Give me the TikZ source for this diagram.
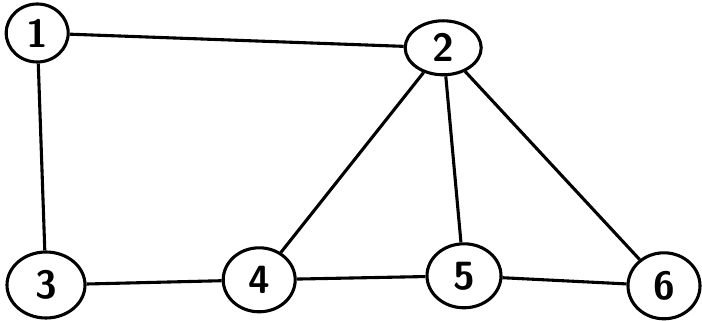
\documentclass[tikz,border=0pt]{standalone}
\usetikzlibrary{shapes.geometric}
\begin{document}
\begin{tikzpicture}[x=1cm,y=1cm,
  vert/.style={draw, ellipse, line width=2.2pt, inner sep=0pt,
    font=\sffamily\bfseries\fontsize{28}{28}\selectfont},
  link/.style={line width=2.2pt}]
\useasboundingbox (0,0) rectangle (17.55,8.025);
\node[vert, minimum width=1.55cm, minimum height=1.45cm] (n1) at (0.93,7.20) {1};
\node[vert, minimum width=1.9cm, minimum height=1.35cm] (n2) at (11.08,6.83) {2};
\node[vert, minimum width=1.95cm, minimum height=1.65cm] (n3) at (1.15,0.90) {3};
\node[vert, minimum width=1.8cm, minimum height=1.6cm] (n4) at (6.48,1.03) {4};
\node[vert, minimum width=1.85cm, minimum height=1.6cm] (n5) at (11.60,1.13) {5};
\node[vert, minimum width=1.8cm, minimum height=1.65cm] (n6) at (16.60,0.88) {6};
\draw[link] (n1) -- (n2);
\draw[link] (n1) -- (n3);
\draw[link] (n2) -- (n4);
\draw[link] (n2) -- (n5);
\draw[link] (n2) -- (n6);
\draw[link] (n3) -- (n4);
\draw[link] (n4) -- (n5);
\draw[link] (n5) -- (n6);
\end{tikzpicture}
\end{document}
